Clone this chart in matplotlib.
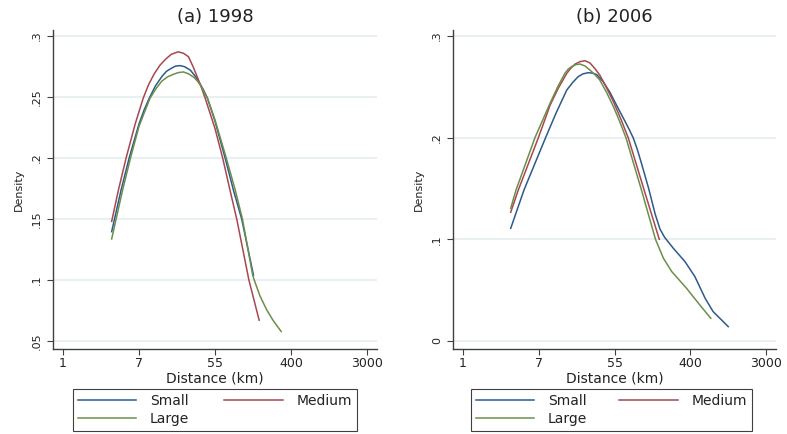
import matplotlib
matplotlib.use("Agg")
import matplotlib.pyplot as plt

# x values are ln(distance in km); ticks are labelled with the distance itself
tick_pos = [0, 2, 4, 6, 8]
tick_lab = ["1", "7", "55", "400", "3000"]

# (a) 1998
x98_small = [1.28, 1.53, 1.745, 2.00, 2.13, 2.27, 2.43, 2.60, 2.72, 2.85, 2.96, 3.08, 3.20, 3.35, 3.48, 3.60,
             3.70, 3.80, 4.00, 4.26, 4.48, 4.70, 5.01]
y98_small = [.1396, .174, .2005, .228, .239, .249, .259, .2667, .271, .2735, .2753, .2757, .2748, .272, .267, .261,
             .2555, .249, .230, .2005, .174, .150, .104]
x98_medium = [1.28, 1.46, 1.66, 1.90, 2.11, 2.25, 2.40, 2.55, 2.70, 2.85, 3.03, 3.17, 3.30, 3.42, 3.55, 3.65,
              3.74, 4.00, 4.20, 4.39, 4.57, 4.89, 5.16]
y98_medium = [.148, .174, .200, .228, .249, .260, .269, .276, .281, .285, .287, .2858, .283, .275, .265, .257,
              .249, .224, .200, .174, .150, .100, .067]
x98_large = [1.28, 1.57, 1.78, 2.00, 2.15, 2.29, 2.45, 2.60, 2.75, 2.90, 3.03, 3.17, 3.30, 3.45, 3.55, 3.65,
             3.72, 3.80, 4.00, 4.29, 4.53, 4.72, 4.99, 5.03, 5.18, 5.36, 5.53, 5.74]
y98_large = [.1336, .174, .2005, .226, .238, .249, .257, .263, .2665, .2685, .2700, .2705, .2690, .266, .2625, .258,
             .2535, .249, .231, .2005, .1738, .150, .104, .100, .087, .0754, .0667, .0577]

# (b) 2006
x06_small = [1.26, 1.61, 2.18, 2.46, 2.74, 2.90, 3.04, 3.17, 3.31, 3.42, 3.53, 3.70, 3.88, 4.05, 4.27, 4.38,
             4.49, 4.60, 4.70, 4.90, 5.07, 5.20, 5.32, 5.55, 5.86, 6.12, 6.39, 6.60, 7.00]
y06_small = [.1108, .1485, .200, .2245, .2469, .2545, .260, .2628, .2639, .2635, .262, .2551, .2445, .2321, .2165,
             .2085, .200, .1885, .176, .150, .125, .110, .102, .0912, .078, .0633, .042, .0289, .0141]
x06_medium = [1.26, 1.46, 1.99, 2.30, 2.52, 2.74, 2.85, 2.96, 3.09, 3.22, 3.35, 3.48, 3.61, 3.79, 3.97, 4.17,
              4.36, 4.78, 5.18]
y06_medium = [.1266, .1485, .200, .232, .249, .2633, .2685, .2724, .2748, .2757, .2735, .268, .2616, .249, .2354,
              .218, .200, .1485, .100]
x06_large = [1.26, 1.40, 1.90, 2.30, 2.50, 2.69, 2.78, 2.87, 2.98, 3.09, 3.22, 3.35, 3.48, 3.61, 3.79, 3.97,
             4.14, 4.30, 4.71, 5.08, 5.29, 5.51, 5.90, 6.25, 6.54]
y06_large = [.1305, .1485, .200, .234, .250, .2633, .2675, .270, .2718, .2724, .2705, .2665, .262, .2567, .2445,
             .2305, .2155, .200, .1485, .100, .0813, .0682, .0518, .0354, .0223]

yt98 = [.05, .1, .15, .2, .25, .3]
yl98 = [".05", ".1", ".15", ".2", ".25", ".3"]
yt06 = [0, .1, .2, .3]
yl06 = ["0", ".1", ".2", ".3"]

c_small = "#2c5a8c"
c_medium = "#a8474f"
c_large = "#6b8f4a"
axis_col = "#404040"
txt_col = "#222222"

W, H = 787, 434
fig = plt.figure(figsize=(W / 100, H / 100), dpi=100)


def panel(left, width, title, xs, ys, yticks, ylabels, ylim, leg_left, leg_width):
    ax = fig.add_axes([left / W, 85 / H, width / W, 319 / H])
    hs = []
    for x, y, c in zip(xs, ys, [c_small, c_medium, c_large]):
        h, = ax.plot(x, y, color=c, lw=1.1)
        hs.append(h)
    ax.set_xlim(-0.263, 8.26)
    ax.set_ylim(*ylim)
    ax.set_xticks(tick_pos)
    ax.set_xticklabels(tick_lab, fontsize=9, color=txt_col)
    ax.set_yticks(yticks)
    ax.set_yticklabels(ylabels, fontsize=8, rotation=90, va="center", color=txt_col)
    ax.tick_params(axis="x", direction="out", length=4, width=0.8, color=axis_col, pad=1.5)
    ax.tick_params(axis="y", direction="out", length=4, width=0.8, color=axis_col, pad=4)
    for s in ["top", "right"]:
        ax.spines[s].set_visible(False)
    for s in ["left", "bottom"]:
        ax.spines[s].set_color(axis_col)
        ax.spines[s].set_linewidth(1.0)
    ax.yaxis.grid(True, color="#e8f0f1", lw=1.5)
    ax.set_axisbelow(True)
    ax.set_title(title, fontsize=13, color=txt_col, pad=6)
    ax.set_xlabel("Distance (km)", fontsize=10, color=txt_col, labelpad=1.5)
    ax.set_ylabel("Density", fontsize=8, color=txt_col, labelpad=6)
    leg = fig.legend([hs[0], hs[2], hs[1]], ["Small", "Large", "Medium"], ncol=2,
                     loc="lower left", bbox_to_anchor=(leg_left / W, 3 / H, leg_width / W, 42 / H),
                     mode="expand", borderaxespad=0, fontsize=10, handlelength=4.2,
                     handletextpad=1.0, labelspacing=0.3, borderpad=0.35,
                     fancybox=False, framealpha=1, edgecolor=axis_col)
    leg.get_frame().set_linewidth(0.8)
    for t in leg.get_texts():
        t.set_color(txt_col)
    return ax


panel(53, 324, "(a) 1998", [x98_small, x98_medium, x98_large], [y98_small, y98_medium, y98_large],
      yt98, yl98, (0.0434, 0.3049), 73, 284)
panel(453, 323, "(b) 2006", [x06_small, x06_medium, x06_large], [y06_small, y06_medium, y06_large],
      yt06, yl06, (-0.0079, 0.3059), 471, 281)

fig.savefig("out.png", dpi=100)
